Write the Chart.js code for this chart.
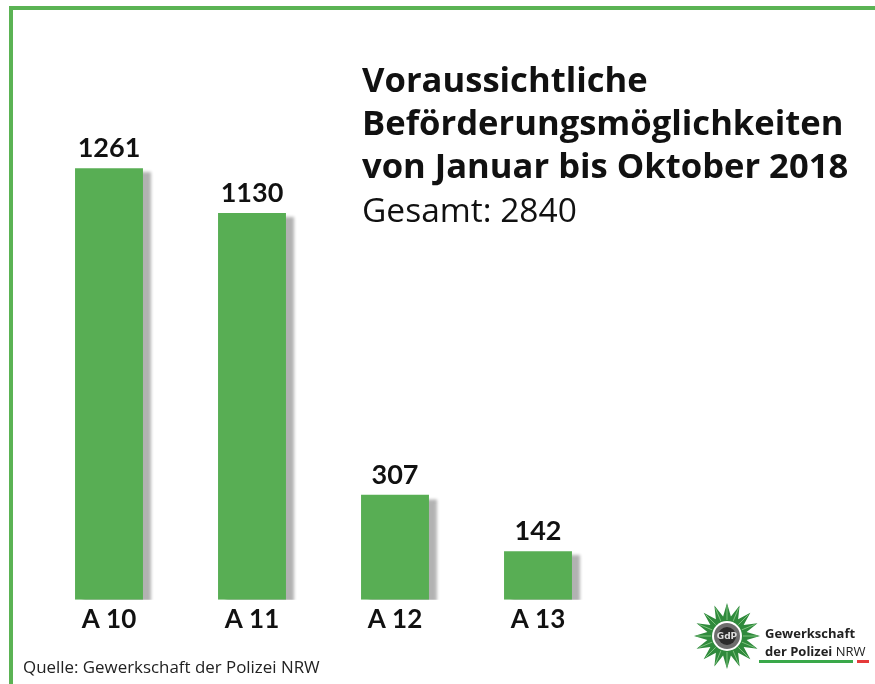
<!DOCTYPE html>
<html>
<head>
<meta charset="utf-8">
<script src="https://cdn.jsdelivr.net/npm/chart.js@4"></script>
<style>
  html, body { margin: 0; padding: 0; background: #fff; }
  #wrap { width: 875px; height: 684px; }
</style>
</head>
<body>
<div id="wrap"><canvas id="promoChart" width="875" height="684"></canvas></div>
<script>
const categories = ['A 10', 'A 11', 'A 12', 'A 13'];
const values = [1261, 1130, 307, 142];
const titleLines = ['Voraussichtliche', 'Beförderungsmöglichkeiten', 'von Januar bis Oktober 2018'];
const subtitle = 'Gesamt: 2840';
const sourceText = 'Quelle: Gewerkschaft der Polizei NRW';

const barGreen = '#58ae54';
const frameGreen = '#5bb354';

// pick a font size so that text spans the given width
function fitFont(ctx, text, weight, family, width) {
    ctx.font = weight + ' 100px ' + family;
    const size = 100 * width / ctx.measureText(text).width;
    return weight + ' ' + size.toFixed(1) + 'px ' + family;
}

// frame, shadows, value labels, title, source and logo
const decorations = {
    id: 'decorations',
    beforeDraw(chart) {
        const ctx = chart.ctx;
        ctx.save();
        ctx.fillStyle = '#fff';
        ctx.fillRect(0, 0, chart.width, chart.height);
        ctx.fillStyle = frameGreen;
        ctx.fillRect(9, 6, chart.width - 9, 4);
        ctx.fillRect(9, 6, 4, chart.height - 6);
        ctx.restore();
    },
    beforeDatasetDraw(chart) {
        const ctx = chart.ctx;
        ctx.save();
        ctx.shadowColor = 'rgba(0, 0, 0, 0.3)';
        ctx.shadowOffsetX = 8;
        ctx.shadowOffsetY = 4;
        ctx.shadowBlur = 3;
    },
    afterDatasetDraw(chart) {
        chart.ctx.restore();
    },
    afterDraw(chart) {
        const ctx = chart.ctx;
        ctx.save();

        // value labels above bars
        ctx.fillStyle = '#111';
        ctx.font = 'bold 27px Lato';
        ctx.textAlign = 'center';
        ctx.textBaseline = 'alphabetic';
        chart.getDatasetMeta(0).data.forEach((bar, i) => {
            ctx.fillText(values[i], bar.x, bar.y - 11);
        });

        // title block
        ctx.textAlign = 'left';
        ctx.font = fitFont(ctx, titleLines[2], 'bold', '"Open Sans"', 486);
        titleLines.forEach((line, i) => {
            ctx.fillText(line, 362, 92 + i * 43);
        });
        ctx.font = fitFont(ctx, subtitle, 'normal', '"Open Sans"', 215);
        ctx.fillText(subtitle, 362, 222);

        // source
        ctx.font = fitFont(ctx, sourceText, 'normal', '"Open Sans"', 296);
        ctx.fillStyle = '#222';
        ctx.fillText(sourceText, 23, 673);

        // logo
        const cx = 727, cy = 636;
        ctx.fillStyle = '#2f8a3c';
        ctx.beginPath();
        const pts = 16;
        for (let k = 0; k < pts * 2; k++) {
            const r = k % 2 === 0 ? 33 : 20;
            const a = -Math.PI / 2 + k * Math.PI / pts;
            const px = cx + r * Math.cos(a), py = cy + r * Math.sin(a);
            if (k === 0) ctx.moveTo(px, py); else ctx.lineTo(px, py);
        }
        ctx.closePath();
        ctx.fill();
        ctx.strokeStyle = '#7cc27c';
        ctx.lineWidth = 1;
        for (let k = 0; k < pts; k++) {
            const a = -Math.PI / 2 + k * 2 * Math.PI / pts;
            ctx.beginPath();
            ctx.moveTo(cx + 16 * Math.cos(a), cy + 16 * Math.sin(a));
            ctx.lineTo(cx + 30 * Math.cos(a), cy + 30 * Math.sin(a));
            ctx.stroke();
        }
        ctx.fillStyle = '#fff';
        ctx.beginPath(); ctx.arc(cx, cy, 15, 0, Math.PI * 2); ctx.fill();
        ctx.fillStyle = '#6d6d6d';
        ctx.beginPath(); ctx.arc(cx, cy, 13, 0, Math.PI * 2); ctx.fill();
        ctx.fillStyle = '#2b2b2b';
        ctx.beginPath(); ctx.arc(cx, cy, 9, 0, Math.PI * 2); ctx.fill();
        ctx.fillStyle = '#ddd';
        ctx.font = 'bold 9px "DejaVu Sans"';
        ctx.textAlign = 'center';
        ctx.textBaseline = 'middle';
        ctx.fillText('GdP', cx, cy + 1);

        ctx.textAlign = 'left';
        ctx.textBaseline = 'alphabetic';
        ctx.fillStyle = '#222';
        ctx.font = 'bold 13px "Open Sans"';
        ctx.fillText('Gewerkschaft', 765, 638);
        ctx.fillText('der Polizei', 765, 656);
        const w = ctx.measureText('der Polizei ').width;
        ctx.font = '13px "Open Sans"';
        ctx.fillText('NRW', 765 + w, 656);
        ctx.fillStyle = '#3aa84a';
        ctx.fillRect(759, 660, 94, 3);
        ctx.fillStyle = '#e53a3a';
        ctx.fillRect(857, 660, 12, 3);

        ctx.restore();
    }
};

new Chart(document.getElementById('promoChart'), {
    type: 'bar',
    data: {
        labels: categories,
        datasets: [{
            label: 'Beförderungen',
            data: values,
            backgroundColor: barGreen,
            borderWidth: 0,
            categoryPercentage: 1,
            barPercentage: 0.475
        }]
    },
    options: {
        responsive: false,
        animation: false,
        events: [],
        layout: {
            padding: { left: 37.5, right: 265.5, top: 20, bottom: 45 }
        },
        plugins: {
            legend: { display: false },
            title: { display: false },
            tooltip: { enabled: false }
        },
        scales: {
            x: {
                grid: { display: false, drawTicks: false },
                border: { display: false },
                ticks: {
                    color: '#111',
                    padding: 4,
                    font: { family: 'Lato', size: 26, weight: 'bold' }
                }
            },
            y: {
                display: false,
                min: 0,
                max: 1694
            }
        }
    },
    plugins: [decorations]
});
</script>
</body>
</html>
